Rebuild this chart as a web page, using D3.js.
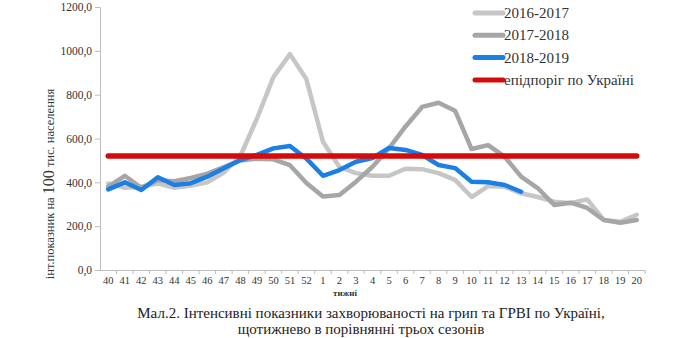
<!DOCTYPE html>
<html>
<head>
<meta charset="utf-8">
<script src="https://cdn.jsdelivr.net/npm/d3@7"></script>
<style>
  html, body { margin: 0; padding: 0; background: #fff; }
  svg { display: block; font-family: "Liberation Serif", "Times New Roman", serif; }
</style>
</head>
<body>
<svg id="chart" width="690" height="338"></svg>
<script>
// Weeks of the epidemic season (week 40 to week 20 of the following year)
const weeks = [40, 41, 42, 43, 44, 45, 46, 47, 48, 49, 50, 51, 52,
  1, 2, 3, 4, 5, 6, 7, 8, 9, 10, 11, 12, 13, 14, 15, 16, 17, 18, 19, 20];

// Intensity per 100 thousand population
const season2016 = [395, 375, 380, 395, 375, 385, 400, 445, 520, 690, 880, 985, 870,
  585, 470, 442, 430, 430, 462, 460, 442, 411, 333, 383, 380, 350, 333, 312, 305, 322, 228, 220, 252];
const season2017 = [380, 430, 375, 410, 405, 420, 440, 470, 500, 508, 505, 478, 397,
  335, 342, 403, 471, 555, 655, 744, 763, 727, 552, 570, 517, 426, 374, 297, 307, 283, 228, 216, 228];
const season2018 = [368, 400, 365, 423, 388, 396, 426, 464, 502, 525, 555, 566, 508,
  430, 456, 494, 511, 557, 548, 525, 479, 465, 403, 400, 388, 357];
const threshold = 520;

const yTicks = [0, 200, 400, 600, 800, 1000, 1200];

const seriesNames = ["2016-2017", "2017-2018", "2018-2019", "епідпоріг по Україні"];
const seriesColors = ["#c6c6c6", "#a6a6a6", "#1b7fe3", "#d50a0a"];

const svg = d3.select("#chart");
const plot = { left: 100, right: 645, top: 7, bottom: 270 };

const x = d3.scaleBand().domain(weeks).range([plot.left, plot.right]);
const y = d3.scaleLinear().domain([0, 1200]).range([plot.bottom, plot.top]);
const cx = w => x(w) + x.bandwidth() / 2;

// Y axis
const yAxis = svg.append("g").attr("transform", `translate(${plot.left},0)`)
  .call(d3.axisLeft(y).tickValues(yTicks).tickSize(5).tickPadding(3)
    .tickFormat(d => d3.format(".1f")(d).replace(".", ",")));
yAxis.select(".domain").attr("stroke", "#bdbdbd");
yAxis.selectAll(".tick line").attr("stroke", "#bdbdbd");
yAxis.selectAll(".tick text").attr("fill", "#333").attr("font-size", 11.5)
  .attr("font-family", "Liberation Serif, serif");

// X axis with ticks between the weeks
const xAxis = svg.append("g").attr("transform", `translate(0,${plot.bottom})`)
  .call(d3.axisBottom(x).tickSize(0).tickPadding(7));
xAxis.select(".domain").attr("stroke", "#bdbdbd");
xAxis.selectAll(".tick text").attr("fill", "#333").attr("font-size", 10.5)
  .attr("font-family", "Liberation Serif, serif");
xAxis.selectAll(".sep").data(weeks).enter().append("line")
  .attr("class", "sep")
  .attr("x1", (d, i) => plot.left + (i + 1) * x.bandwidth())
  .attr("x2", (d, i) => plot.left + (i + 1) * x.bandwidth())
  .attr("y1", 0).attr("y2", 4).attr("stroke", "#bdbdbd");

// Axis titles
svg.append("text")
  .attr("transform", `translate(54,184) rotate(-90)`)
  .attr("text-anchor", "middle").attr("font-size", 12.5).attr("fill", "#333")
  .call(t => {
    t.append("tspan").text("інт.показник на ");
    t.append("tspan").attr("font-size", 16).text("100");
    t.append("tspan").text(" тис. населення");
  });
svg.append("text").attr("x", 345).attr("y", 296).attr("text-anchor", "middle")
  .attr("font-size", 9).attr("font-weight", "bold").attr("fill", "#333").text("тижні");

// Season lines
const line = d3.line().x((d, i) => cx(weeks[i])).y(d => y(d));
[season2016, season2017, season2018].forEach((s, k) => {
  svg.append("path").datum(s).attr("d", line)
    .attr("fill", "none").attr("stroke", seriesColors[k])
    .attr("stroke-width", 4.5).attr("stroke-linejoin", "round").attr("stroke-linecap", "round");
});

// Epidemic threshold
svg.append("line")
  .attr("x1", cx(weeks[0])).attr("x2", cx(weeks[weeks.length - 1]))
  .attr("y1", y(threshold)).attr("y2", y(threshold))
  .attr("stroke", seriesColors[3]).attr("stroke-width", 5.5).attr("stroke-linecap", "round");

// Legend
const legend = svg.append("g").attr("transform", "translate(475,13)");
seriesNames.forEach((name, i) => {
  const g = legend.append("g").attr("transform", `translate(0,${i * 22.3})`);
  g.append("line").attr("x1", 0).attr("x2", 28).attr("y1", 0).attr("y2", 0)
    .attr("stroke", seriesColors[i]).attr("stroke-width", 5).attr("stroke-linecap", "round");
  g.append("text").attr("x", 29).attr("y", 5).attr("font-size", 15).attr("fill", "#333").text(name);
});

// Caption
svg.append("text").attr("x", 371).attr("y", 318).attr("text-anchor", "middle")
  .attr("font-size", 15).attr("fill", "#222")
  .text("Мал.2. Інтенсивні показники захворюваності на грип та ГРВІ по Україні,");
svg.append("text").attr("x", 361).attr("y", 334).attr("text-anchor", "middle")
  .attr("font-size", 15).attr("fill", "#222")
  .text("щотижнево в порівнянні трьох сезонів");
</script>
</body>
</html>
